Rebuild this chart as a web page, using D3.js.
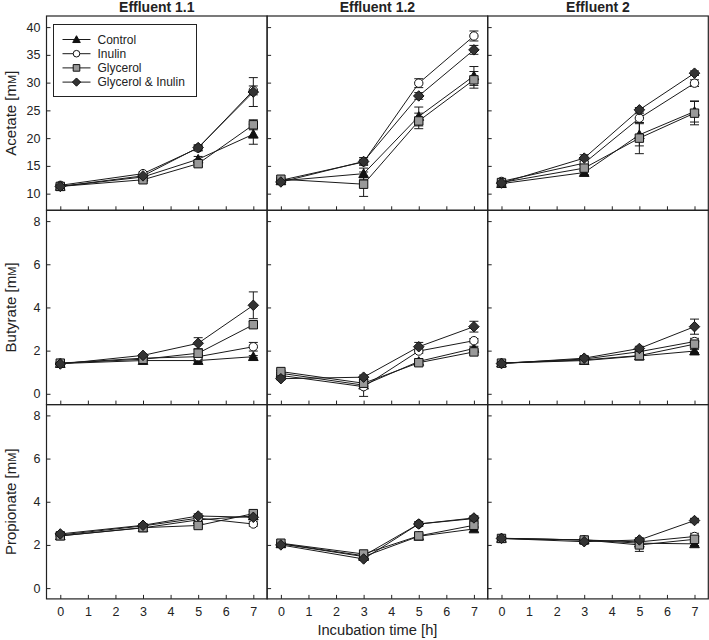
<!DOCTYPE html>
<html>
<head>
<meta charset="utf-8">
<title>SCFA panels</title>
<script src="https://d3js.org/d3.v7.min.js"></script>
<style>
  body { margin: 0; background: #fff; }
  svg text { font-family: Arial, "Liberation Sans", sans-serif; fill: #222; }
  .tick text { font-size: 12.5px; }
  .tick line { stroke: #222; }
  .domain { display: none; }
</style>
</head>
<body>
<div id="chart"></div>
<script>
// data
var times = [0, 3, 5, 7];
var effluents = ["Effluent 1.1", "Effluent 1.2", "Effluent 2"];
var acids = ["Acetate", "Butyrate", "Propionate"];
var seriesNames = ["Control", "Inulin", "Glycerol", "Glycerol & Inulin"];
var xTicks = [0, 1, 2, 3, 4, 5, 6, 7];
var acetateTicks = [10, 15, 20, 25, 30, 35, 40];
var otherTicks = [0, 2, 4, 6, 8];

// rows: Control, Inulin, Glycerol, Glycerol & Inulin
var acetateE11 = [[11.3, 13.0, 16.2, 20.7], [11.5, 13.6, 18.2, 28.6], [11.3, 12.5, 15.4, 22.4], [11.3, 13.2, 18.3, 28.3]];
var acetateE11Err = [[0.3, 0.3, 0.5, 1.8], [0.3, 0.3, 0.5, 0.8], [0.3, 0.3, 0.5, 0.9], [0.3, 0.4, 0.5, 2.6]];
var acetateE12 = [[12.3, 13.6, 23.9, 31.2], [12.4, 15.7, 29.9, 38.4], [12.6, 11.7, 23.1, 30.5], [12.1, 15.8, 27.6, 35.9]];
var acetateE12Err = [[0.3, 1.0, 1.7, 1.7], [0.3, 0.5, 0.8, 0.9], [0.3, 2.2, 1.4, 1.5], [0.3, 0.7, 0.6, 0.8]];
var acetateE2 = [[11.8, 13.8, 20.6, 24.8], [12.2, 15.5, 23.6, 29.9], [12.0, 14.6, 20.0, 24.5], [11.9, 16.4, 25.1, 31.7]];
var acetateE2Err = [[0.3, 0.4, 2.0, 1.9], [0.3, 0.4, 0.8, 0.6], [0.3, 0.5, 2.8, 2.1], [0.3, 0.6, 0.4, 0.4]];

var butyrateE11 = [[1.40, 1.54, 1.54, 1.72], [1.42, 1.65, 1.72, 2.18], [1.42, 1.60, 1.88, 3.20], [1.38, 1.78, 2.34, 4.10]];
var butyrateE11Err = [[0.05, 0.05, 0.05, 0.05], [0.05, 0.05, 0.1, 0.2], [0.05, 0.05, 0.2, 0.15], [0.05, 0.05, 0.26, 0.62]];
var butyrateE12 = [[0.95, 0.40, 1.50, 2.10], [0.85, 0.33, 1.98, 2.46], [1.03, 0.49, 1.44, 1.94], [0.70, 0.77, 2.18, 3.11]];
var butyrateE12Err = [[0.05, 0.1, 0.1, 0.1], [0.05, 0.45, 0.1, 0.1], [0.05, 0.1, 0.1, 0.1], [0.05, 0.1, 0.2, 0.25]];
var butyrateE2 = [[1.42, 1.54, 1.75, 1.98], [1.42, 1.61, 1.95, 2.42], [1.42, 1.57, 1.77, 2.30], [1.40, 1.65, 2.10, 3.11]];
var butyrateE2Err = [[0.05, 0.05, 0.05, 0.08], [0.05, 0.05, 0.1, 0.15], [0.05, 0.05, 0.2, 0.1], [0.05, 0.05, 0.1, 0.35]];

var propionateE11 = [[2.42, 2.79, 3.16, 3.34], [2.46, 2.88, 3.24, 2.97], [2.42, 2.80, 2.90, 3.45], [2.51, 2.91, 3.34, 3.28]];
var propionateE11Err = [[0.05, 0.05, 0.1, 0.1], [0.05, 0.05, 0.1, 0.1], [0.05, 0.05, 0.1, 0.1], [0.05, 0.05, 0.1, 0.1]];
var propionateE12 = [[2.05, 1.46, 2.40, 2.74], [2.06, 1.50, 2.97, 3.22], [2.08, 1.58, 2.42, 2.91], [2.00, 1.35, 2.97, 3.25]];
var propionateE12Err = [[0.05, 0.05, 0.1, 0.1], [0.05, 0.05, 0.1, 0.1], [0.05, 0.05, 0.1, 0.1], [0.05, 0.05, 0.1, 0.1]];
var propionateE2 = [[2.30, 2.23, 2.08, 2.05], [2.31, 2.23, 2.14, 2.39], [2.30, 2.23, 2.00, 2.26], [2.30, 2.15, 2.23, 3.13]];
var propionateE2Err = [[0.05, 0.05, 0.1, 0.08], [0.05, 0.05, 0.1, 0.15], [0.05, 0.05, 0.3, 0.1], [0.05, 0.05, 0.1, 0.1]];

var panelData = [
  [[acetateE11, acetateE11Err], [acetateE12, acetateE12Err], [acetateE2, acetateE2Err]],
  [[butyrateE11, butyrateE11Err], [butyrateE12, butyrateE12Err], [butyrateE2, butyrateE2Err]],
  [[propionateE11, propionateE11Err], [propionateE12, propionateE12Err], [propionateE2, propionateE2Err]]
];

var width = 709, height = 640;
var padL = 46.5, padT = 16, pw = 220.6, ph = 194.3;

var fills = ["#111", "#fff", "#999", "#333"];

// marker shapes, r ~ half size in px
function markerPath(i, r) {
  if (i === 0) { // triangle
    var h = r * 1.15;
    return "M0," + (-h) + "L" + h + "," + (h * 0.8) + "L" + (-h) + "," + (h * 0.8) + "Z";
  }
  if (i === 1) return d3.symbol(d3.symbolCircle, Math.PI * r * r)();
  if (i === 2) return "M" + (-r) + "," + (-r) + "H" + r + "V" + r + "H" + (-r) + "Z";
  var d = r * 1.25;
  return "M0," + (-d) + "L" + d + ",0L0," + d + "L" + (-d) + ",0Z";
}

var svg = d3.select("#chart").append("svg")
  .attr("width", width)
  .attr("height", height);

acids.forEach(function(acid, row) {
  var y = d3.scaleLinear()
    .domain(row === 0 ? [7, 42] : [-0.5, 8.5])
    .range([padT + (row + 1) * ph, padT + row * ph]);

  effluents.forEach(function(eff, col) {
    var x = d3.scaleLinear()
      .domain([-0.5, 7.5])
      .range([padL + col * pw, padL + (col + 1) * pw]);

    var g = svg.append("g").attr("class", "panel");
    var vals = panelData[row][col][0], errs = panelData[row][col][1];

    // axes, ticks pointing inward
    var xa = d3.axisBottom(x).tickValues(xTicks).tickSizeInner(-4).tickSizeOuter(0).tickPadding(8);
    if (row < 2) xa.tickFormat("");
    g.append("g").attr("transform", "translate(0," + y.range()[0] + ")").call(xa);

    var ya = d3.axisLeft(y).tickValues(row === 0 ? acetateTicks : otherTicks)
      .tickSizeInner(-4).tickSizeOuter(0).tickPadding(6);
    if (col > 0) ya.tickFormat("");
    g.append("g").attr("transform", "translate(" + x.range()[0] + ",0)").call(ya);

    var line = d3.line().x(function(d, i) { return x(times[i]); }).y(function(d) { return y(d); });

    vals.forEach(function(s) {
      g.append("path").attr("d", line(s))
        .attr("fill", "none").attr("stroke", "#1a1a1a").attr("stroke-width", 1);
    });

    vals.forEach(function(s, si) {
      s.forEach(function(v, ti) {
        var e = errs[si][ti], cx = x(times[ti]);
        var eg = g.append("g").attr("stroke", "#1a1a1a").attr("stroke-width", 1);
        eg.append("line").attr("x1", cx).attr("x2", cx).attr("y1", y(v - e)).attr("y2", y(v + e));
        [v - e, v + e].forEach(function(b) {
          eg.append("line").attr("x1", cx - 4.5).attr("x2", cx + 4.5).attr("y1", y(b)).attr("y2", y(b));
        });
      });
    });

    vals.forEach(function(s, si) {
      g.selectAll(null).data(s).enter().append("path")
        .attr("d", markerPath(si, 4.2))
        .attr("transform", function(d, i) { return "translate(" + x(times[i]) + "," + y(d) + ")"; })
        .attr("fill", fills[si])
        .attr("stroke", "#111")
        .attr("stroke-width", 1);
    });

    g.append("rect")
      .attr("x", x.range()[0]).attr("y", y.range()[1])
      .attr("width", pw).attr("height", ph)
      .attr("fill", "none").attr("stroke", "#222").attr("stroke-width", 1.2);

    if (row === 0) {
      svg.append("text")
        .attr("x", (x.range()[0] + x.range()[1]) / 2).attr("y", 12)
        .attr("text-anchor", "middle")
        .style("font-size", "14px").style("font-weight", "bold")
        .text(eff);
    }
  });

  var lab = svg.append("text")
    .attr("transform", "translate(15.5," + (padT + row * ph + ph / 2) + ") rotate(-90)")
    .attr("text-anchor", "middle")
    .style("font-size", "15px");
  lab.append("tspan").text(acid + " [m");
  lab.append("tspan").style("font-size", "11px").text("M");
  lab.append("tspan").text("]");
});

svg.append("text")
  .attr("x", padL + 1.5 * pw).attr("y", 635)
  .attr("text-anchor", "middle")
  .style("font-size", "14.7px")
  .text("Incubation time [h]");

// legend
var leg = svg.append("g").attr("transform", "translate(53.5,24.5)");
leg.append("rect").attr("width", 143).attr("height", 72)
  .attr("fill", "#fff").attr("stroke", "#222").attr("stroke-width", 1);
seriesNames.forEach(function(name, i) {
  var ly = 15 + i * 14.2;
  leg.append("line").attr("x1", 9).attr("x2", 37).attr("y1", ly).attr("y2", ly)
    .attr("stroke", "#1a1a1a");
  leg.append("path").attr("d", markerPath(i, 3.3))
    .attr("transform", "translate(23," + ly + ")")
    .attr("fill", fills[i]).attr("stroke", "#111");
  leg.append("text").attr("x", 44).attr("y", ly + 4.3)
    .style("font-size", "12px").text(name);
});
</script>
</body>
</html>
